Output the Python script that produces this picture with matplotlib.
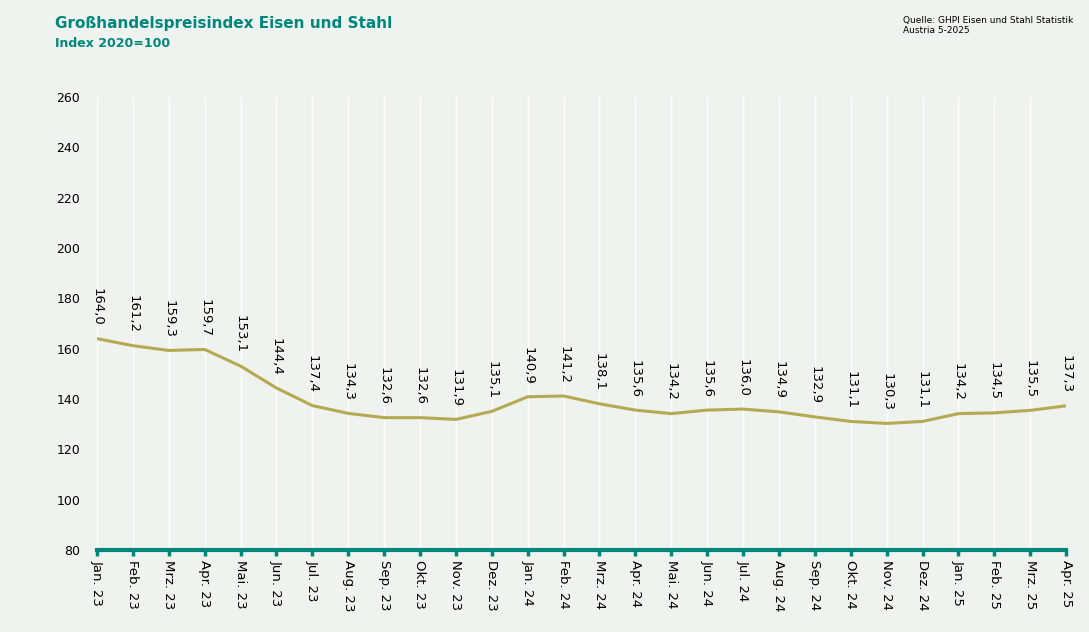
import matplotlib.pyplot as plt
import numpy as np

months = ['Jan. 23', 'Feb. 23', 'Mrz. 23', 'Apr. 23', 'Mai. 23', 'Jun. 23', 'Jul. 23', 'Aug. 23',
          'Sep. 23', 'Okt. 23', 'Nov. 23', 'Dez. 23', 'Jan. 24', 'Feb. 24', 'Mrz. 24', 'Apr. 24',
          'Mai. 24', 'Jun. 24', 'Jul. 24', 'Aug. 24', 'Sep. 24', 'Okt. 24', 'Nov. 24', 'Dez. 24',
          'Jan. 25', 'Feb. 25', 'Mrz. 25', 'Apr. 25']
index_values = [164.0, 161.2, 159.3, 159.7, 153.1, 144.4, 137.4, 134.3, 132.6, 132.6, 131.9, 135.1,
                140.9, 141.2, 138.1, 135.6, 134.2, 135.6, 136.0, 134.9, 132.9, 131.1, 130.3, 131.1,
                134.2, 134.5, 135.5, 137.3]
y_ticks = [80, 100, 120, 140, 160, 180, 200, 220, 240, 260]

bg = '#eef3f0'
teal = '#00877c'
olive = '#b5aa52'

fig = plt.figure(figsize=(10.89, 6.32), dpi=100, facecolor=bg)
ax = fig.add_axes([0.089, 0.1297, 0.890, 0.7168], facecolor=bg)

x = np.arange(len(months))
ax.plot(x, index_values, color=olive, linewidth=2.2, zorder=3)

for xi, v in zip(x, index_values):
    ax.annotate(f'{v:.1f}'.replace('.', ','), (xi, v), xytext=(0, 9), textcoords='offset points',
                rotation=270, ha='center', va='bottom', fontsize=9.5, color='black')

ax.set_xlim(0, len(months) - 1)
ax.set_ylim(80, 260)
ax.set_yticks(y_ticks)
ax.set_xticks(x)
ax.set_xticklabels(months, rotation=270, fontsize=9.5, va='top', ha='center')
ax.tick_params(axis='y', length=0, labelsize=9, pad=12)
ax.tick_params(axis='x', length=4, width=2.5, color=teal, pad=3)

ax.grid(axis='x', color='white', linewidth=1)
for s in ['top', 'right', 'left']:
    ax.spines[s].set_visible(False)
ax.spines['bottom'].set_color(teal)
ax.spines['bottom'].set_linewidth(3)

fig.text(0.0505, 0.955, 'Großhandelspreisindex Eisen und Stahl', fontsize=11, fontweight='bold',
         color=teal, va='baseline')
fig.text(0.0505, 0.925, 'Index 2020=100', fontsize=9, fontweight='bold', color=teal, va='baseline')
fig.text(0.829, 0.975, 'Quelle: GHPI Eisen und Stahl Statistik\nAustria 5-2025', fontsize=6.5,
         color='black', va='top', linespacing=1.1)

fig.savefig('out.png', dpi=100, facecolor=bg)
